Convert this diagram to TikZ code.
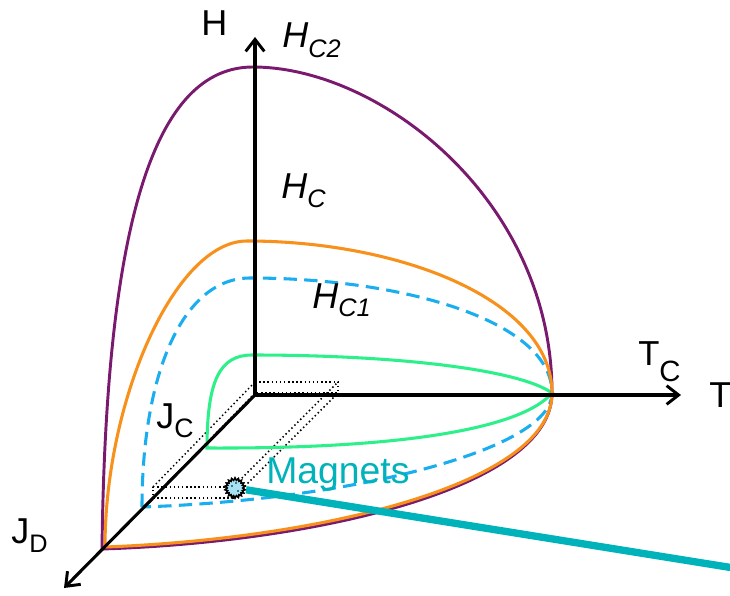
\documentclass[tikz,border=0pt]{standalone}
\usepackage{fontspec}
\setmainfont{Liberation Sans}
\usetikzlibrary{arrows.meta,shapes.geometric}
\definecolor{cpurple}{HTML}{7A1A6E}
\definecolor{corange}{HTML}{F8911B}
\definecolor{cblue}{HTML}{1AAEEF}
\definecolor{cgreen}{HTML}{2EF08A}
\definecolor{cteal}{HTML}{00B2BA}
\definecolor{cmag}{HTML}{A6E1F5}
\newcommand{\subx}[3]{\raisebox{-#2}{\fontsize{#1}{#1}\selectfont #3}}
\begin{document}
\begin{tikzpicture}[x=0.75pt,y=-0.75pt,
  axis/.style={line width=2.3pt,black,-{Straight Barb[length=9pt,width=14pt,line width=2.2pt]}},
  pur/.style={line width=2.2pt,cpurple},
  ora/.style={line width=2.3pt,corange},
  blu/.style={line width=2.3pt,cblue,dash pattern=on 10pt off 5.5pt},
  grn/.style={line width=2.3pt,cgreen},
  dots/.style={black,line width=1.1pt,dotted},
  lbl/.style={inner sep=0pt,font=\fontsize{27}{30}\selectfont},
  lblit/.style={inner sep=0pt,font=\fontsize{27}{30}\selectfont\itshape},
  magstyle/.style={star,star points=18,star point ratio=1.3,minimum size=15pt,inner sep=0pt,
    fill=cmag,draw=black,line width=1.1pt},
]
\useasboundingbox (0,0) rectangle (730,595);
% key points
\coordinate (O) at (255,395);
\coordinate (Htip) at (255,37);
\coordinate (Ttip) at (681,395);
\coordinate (Jtip) at (64,588);
\coordinate (TC) at (552,393);
\coordinate (P0) at (102,549);
\coordinate (Q0) at (105,547);
\coordinate (B0) at (142,507);
\coordinate (G0) at (207,448);
\coordinate (lineend) at (740,569);
% dotted box
\draw[dots] (255,382) -- (338,382) -- (338,393) -- (255,393) -- cycle;
\draw[dots] (153,487) -- (233,487) -- (233,498) -- (153,498) -- cycle;
\draw[dots] (153,487) -- (255,382);
\draw[dots] (233,487) -- (338,382);
\draw[dots] (233,498) -- (338,393);
\draw[dots] (153,498) -- (255,393);
% green
\draw[grn] (G0) .. controls (207,380) and (220,355) .. (252,355)
  .. controls (400,355) and (520,370) .. (TC)
  .. controls (525,425) and (420,449) .. (G0) -- cycle;
% blue dashed
\draw[blu] (B0) .. controls (142,380) and (180,278) .. (250,278)
  .. controls (400,278) and (552,320) .. (TC)
  .. controls (552,450) and (350,500) .. (B0) -- cycle;
% purple
\draw[pur] (P0) .. controls (106,220) and (155,67) .. (253,67)
  .. controls (380,67) and (552,200) .. (TC);
\draw[pur] (P0) .. controls (320,542) and (552,487) .. (TC);
% orange
\draw[ora] (Q0) .. controls (105,400) and (175,241) .. (247,241)
  .. controls (400,241) and (552,300) .. (TC);
\draw[ora] (Q0) .. controls (320,539) and (552,484) .. (TC);
% axes
\draw[axis] (O) -- (Htip);
\draw[axis] (O) -- (Ttip);
\draw[axis] (O) -- (Jtip);
% magnet and its line
\node[magstyle] (magnet) at (235,488) {};
\draw[cteal,line width=5.5pt] (magnet) -- (lineend);
\node[magstyle] (magnet2) at (235,488) {};
\fill[black] (232,486) circle (0.7pt) (238,491) circle (0.7pt) (236,483) circle (0.6pt);
% labels
\node[lbl,anchor=base west] (hl) at (201,36) {H};
\node[lblit,anchor=base west] (hc2) at (282,48) {H\subx{19}{7.5pt}{C2}};
\node[lblit,anchor=base west] (hc) at (281,198) {H\subx{19}{6.8pt}{C}};
\node[lblit,anchor=base west] (hc1) at (312,308) {H\subx{19}{6pt}{C1}};
\node[lbl,anchor=base west] (tl) at (709,407) {T};
\node[lbl,anchor=base west,font=\fontsize{26}{30}\selectfont] (tc) at (638,365) {T\subx{22}{12.5pt}{C}};
\node[lbl,anchor=base west] (jc) at (156,428) {J\subx{20}{6.8pt}{C}};
\node[lbl,anchor=base west] (jd) at (11,543) {J\subx{19}{6.8pt}{D}};
\node[lbl,anchor=base west,text=cteal,font=\fontsize{28}{30}\selectfont] (mag) at (266,483) {Magnets};
\end{tikzpicture}
\end{document}
